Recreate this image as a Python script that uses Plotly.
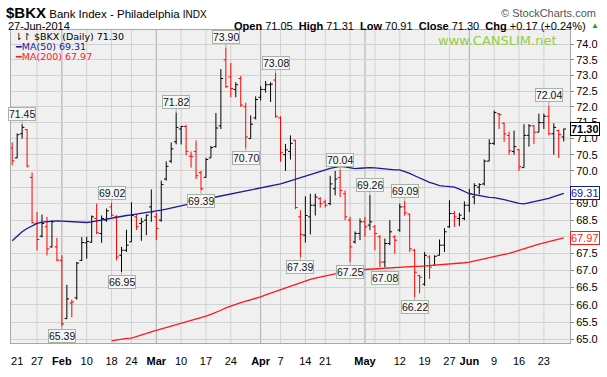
import math
import pandas as pd
import plotly.graph_objects as go

# ---------------- data ----------------
holidays = ["2014-01-20", "2014-02-17", "2014-04-18", "2014-05-26"]
dates = [d.strftime("%Y-%m-%d") for d in pd.bdate_range("2014-01-17", "2014-06-27")
         if d.strftime("%Y-%m-%d") not in holidays]

opens = [70.70, 70.40, 71.15, 71.28, 69.80, 68.40, 68.02, 68.30, 67.70, 67.70,
         67.30, 65.60, 66.05, 66.20, 67.30, 67.82, 67.84, 68.55, 68.10, 68.50,
         68.90, 68.60, 67.45, 67.60, 67.85, 68.60, 68.40, 68.50, 68.90, 68.60,
         68.50, 69.75, 70.30, 70.90, 71.30, 71.38, 70.45, 70.60, 69.95, 69.80,
         70.40, 70.75, 71.40, 73.50, 72.95, 72.55, 72.90, 72.00, 71.00, 71.65,
         72.30, 72.55, 72.70, 72.85, 71.65, 70.50, 70.60, 70.95, 68.60, 68.05,
         68.60, 68.95, 69.15, 69.05, 69.00, 69.45, 69.80, 69.30, 68.50, 67.85,
         68.10, 68.45, 68.35, 68.30, 68.00, 67.25, 67.80, 68.00, 68.20, 68.90,
         68.68, 67.60, 66.85, 66.60, 67.40, 67.15, 67.45, 67.75, 68.30, 68.70,
         68.55, 68.55, 68.95, 69.20, 69.50, 69.60, 70.30, 70.85, 71.78, 71.48,
         71.10, 70.60, 70.65, 70.10, 71.10, 71.40, 71.20, 71.50, 71.70, 71.15,
         71.25, 71.05]
highs = [70.88, 71.16, 71.45, 71.30, 69.95, 68.75, 68.67, 68.60, 68.50, 67.97,
         67.45, 66.58, 66.15, 67.25, 67.99, 68.00, 68.64, 69.00, 68.64, 68.85,
         69.02, 68.65, 67.70, 68.21, 69.04, 68.68, 68.57, 68.67, 69.43, 68.72,
         69.70, 70.29, 70.88, 71.82, 71.40, 71.43, 70.60, 70.94, 70.00, 70.40,
         70.77, 71.80, 73.20, 73.90, 73.40, 72.78, 72.98, 72.13, 71.73, 72.33,
         72.65, 72.82, 72.78, 73.08, 71.70, 70.83, 71.10, 70.96, 68.80, 69.22,
         69.30, 69.30, 69.20, 69.12, 69.85, 70.00, 70.04, 69.40, 68.60, 68.16,
         68.55, 68.60, 69.26, 68.35, 68.05, 67.95, 68.50, 68.05, 69.00, 69.09,
         68.70, 67.64, 66.88, 67.55, 67.45, 67.45, 67.92, 68.26, 69.10, 68.78,
         68.72, 69.07, 69.45, 69.62, 69.62, 70.35, 70.98, 71.88, 71.80, 71.50,
         71.22, 71.25, 70.68, 71.45, 71.45, 71.42, 71.78, 71.78, 72.04, 71.48,
         71.28, 71.31]
lows = [70.17, 70.39, 71.00, 70.10, 68.40, 67.59, 67.98, 67.45, 67.68, 67.27,
        65.39, 65.59, 65.64, 66.15, 67.28, 67.35, 67.82, 68.08, 67.82, 68.45,
        68.60, 67.30, 66.95, 67.55, 67.85, 68.20, 67.88, 68.05, 68.45, 67.90,
        68.45, 69.70, 70.24, 70.82, 70.82, 70.48, 70.10, 69.75, 69.39, 69.80,
        70.40, 70.72, 71.30, 72.60, 72.30, 72.30, 72.00, 70.70, 71.00, 71.60,
        72.20, 72.45, 72.15, 71.65, 70.28, 70.00, 70.35, 68.83, 67.39, 67.83,
        68.07, 68.64, 68.88, 68.88, 68.95, 69.25, 69.20, 68.50, 67.25, 67.80,
        67.90, 68.00, 68.20, 67.60, 67.10, 67.08, 67.75, 67.50, 68.15, 68.63,
        67.55, 66.22, 66.33, 66.55, 66.75, 67.15, 67.45, 67.55, 68.27, 68.30,
        68.32, 68.50, 68.75, 68.98, 69.28, 69.55, 70.30, 70.80, 71.30, 70.90,
        70.50, 70.50, 70.00, 70.10, 70.75, 70.83, 71.20, 71.30, 71.10, 70.50,
        70.40, 70.91]
closes = [70.31, 71.12, 71.35, 70.15, 68.42, 67.92, 68.40, 67.64, 68.45, 67.31,
          65.45, 66.17, 66.08, 67.22, 67.83, 67.86, 68.60, 68.12, 68.55, 68.78,
          68.65, 67.40, 67.60, 67.75, 68.64, 68.30, 68.45, 68.65, 68.75, 68.25,
          69.58, 70.14, 70.68, 71.35, 71.38, 70.60, 70.45, 69.85, 69.45, 70.35,
          70.72, 71.33, 72.90, 72.64, 72.58, 72.70, 72.05, 71.05, 71.45, 72.23,
          72.55, 72.70, 72.72, 71.70, 70.56, 70.65, 70.85, 68.88, 68.07, 68.64,
          68.95, 69.20, 69.00, 68.95, 69.60, 69.75, 69.40, 68.60, 67.70, 68.10,
          68.45, 68.30, 68.45, 68.10, 67.25, 67.80, 68.15, 67.90, 68.90, 68.72,
          67.64, 66.95, 66.80, 67.45, 67.10, 67.42, 67.75, 68.15, 68.70, 68.60,
          68.65, 68.95, 69.30, 69.55, 69.58, 70.30, 70.85, 71.82, 71.75, 71.15,
          70.62, 70.75, 70.13, 71.10, 71.40, 71.20, 71.50, 71.70, 71.15, 71.35,
          71.13, 71.30]

ma50 = [67.88, 68.02, 68.15, 68.25, 68.33, 68.40, 68.44, 68.46, 68.48, 68.48,
        68.47, 68.46, 68.45, 68.43, 68.42, 68.43, 68.45, 68.48, 68.51, 68.54,
        68.56, 68.58, 68.62, 68.64, 68.66, 68.68, 68.70, 68.72, 68.75, 68.77,
        68.80, 68.83, 68.86, 68.89, 68.93, 68.97, 69.00, 69.05, 69.10, 69.14,
        69.17, 69.20, 69.24, 69.28, 69.31, 69.34, 69.37, 69.40, 69.43, 69.46,
        69.49, 69.52, 69.55, 69.57, 69.60, 69.65, 69.70, 69.75, 69.80, 69.85,
        69.90, 69.95, 69.99, 70.03, 70.08, 70.11, 70.14, 70.12, 70.09, 70.07,
        70.08, 70.10, 70.10, 70.09, 70.07, 70.05, 70.04, 70.03, 70.03, 69.98,
        69.92, 69.85, 69.78, 69.71, 69.65, 69.60, 69.55, 69.53, 69.52, 69.50,
        69.44, 69.37, 69.30, 69.27, 69.24, 69.21, 69.19, 69.18, 69.16, 69.12,
        69.08, 69.04, 69.01, 68.99, 69.02, 69.05, 69.09, 69.12, 69.16, 69.21,
        69.26, 69.31]
ma200_start = 20
ma200 = [64.96, 64.99, 65.01, 65.03, 65.04, 65.09, 65.14, 65.18, 65.22, 65.26,
         65.30, 65.34, 65.38, 65.42, 65.45, 65.49, 65.53, 65.58, 65.62, 65.67,
         65.72, 65.77, 65.84, 65.91, 65.97, 66.01, 66.06, 66.10, 66.15, 66.19,
         66.23, 66.29, 66.34, 66.40, 66.45, 66.51, 66.56, 66.61, 66.65, 66.70,
         66.74, 66.78, 66.81, 66.85, 66.88, 66.90, 66.91, 66.93, 66.94, 66.97,
         67.00, 67.03, 67.04, 67.05, 67.07, 67.08, 67.09, 67.10, 67.10, 67.11,
         67.11, 67.12, 67.12, 67.13, 67.14, 67.15, 67.17, 67.18, 67.19, 67.20,
         67.22, 67.23, 67.25, 67.28, 67.31, 67.34, 67.37, 67.40, 67.44, 67.48,
         67.51, 67.55, 67.60, 67.64, 67.68, 67.73, 67.78, 67.82, 67.86, 67.89,
         67.93, 67.97]

label_high_dates = ["2014-01-22", "2014-02-18", "2014-03-07", "2014-03-21", "2014-04-04",
                    "2014-04-24", "2014-05-02", "2014-05-13", "2014-06-24"]
label_low_dates = ["2014-02-03", "2014-02-20", "2014-03-14", "2014-03-27", "2014-04-11",
                   "2014-04-28", "2014-05-07", "2014-05-15"]

xtick_dates = ["2014-01-21", "2014-01-27", "2014-02-03", "2014-02-10", "2014-02-18",
               "2014-02-24", "2014-03-03", "2014-03-10", "2014-03-17", "2014-03-24",
               "2014-04-01", "2014-04-07", "2014-04-14", "2014-04-21", "2014-05-01",
               "2014-05-12", "2014-05-19", "2014-05-27", "2014-06-02", "2014-06-09",
               "2014-06-16", "2014-06-23"]
xtick_text = ["21", "27", "<b>Feb</b>", "10", "18", "24", "<b>Mar</b>", "10", "17", "24",
              "<b>Apr</b>", "7", "14", "21", "<b>May</b>", "12", "19", "27", "<b>Jun</b>",
              "9", "16", "23"]
week_grid_dates = ["2014-01-27", "2014-02-10", "2014-02-18", "2014-02-24", "2014-03-10",
                   "2014-03-17", "2014-03-24", "2014-04-07", "2014-04-14", "2014-04-21",
                   "2014-04-28", "2014-05-05", "2014-05-12", "2014-05-19", "2014-05-27",
                   "2014-06-09", "2014-06-16", "2014-06-23"]
month_grid_dates = ["2014-02-03", "2014-03-03", "2014-04-01", "2014-05-01", "2014-06-02"]
ytick_vals = [65.0, 65.5, 66.0, 66.5, 67.0, 67.5, 68.0, 68.5, 69.0, 69.5,
              70.0, 70.5, 71.0, 71.5, 72.0, 72.5, 73.0, 73.5, 74.0]

# ---------------- figure ----------------
W, H = 607, 377
L, R, T, B = 9.5, 572.0, 29.5, 357.0
def px(x): return (x - L) / (R - L)
def py(y): return (B - y) / (B - T)

n = len(dates)
prev = [opens[0]] + closes[:-1]
up = [i for i in range(n) if closes[i] >= prev[i]]
dn = [i for i in range(n) if closes[i] < prev[i]]

fig = go.Figure()
for idx, col in ((up, "#000000"), (dn, "#ff0000")):
    fig.add_trace(go.Ohlc(
        x=[dates[i] for i in idx], open=[opens[i] for i in idx], high=[highs[i] for i in idx],
        low=[lows[i] for i in idx], close=[closes[i] for i in idx],
        increasing=dict(line=dict(color=col, width=1)),
        decreasing=dict(line=dict(color=col, width=1)),
        tickwidth=0.45, hoverinfo="skip"))

fig.add_trace(go.Scatter(x=dates, y=ma50, mode="lines",
                         line=dict(color="#1a1a96", width=1.3), hoverinfo="skip"))
fig.add_trace(go.Scatter(x=dates[ma200_start:], y=ma200, mode="lines",
                         line=dict(color="#ff1a1a", width=1.3), hoverinfo="skip"))

shapes = []
for d in week_grid_dates:
    shapes.append(dict(type="line", xref="x", yref="paper", x0=d, x1=d, y0=0, y1=1,
                       line=dict(color="#d2d2d2", width=1), layer="below"))
for d in month_grid_dates:
    shapes.append(dict(type="line", xref="x", yref="paper", x0=d, x1=d, y0=0, y1=1,
                       line=dict(color="#ababab", width=1), layer="below"))

ann = []
box = dict(bgcolor="#f7f7f7", bordercolor="#a6b4a6", borderwidth=1, borderpad=0, height=12,
           font=dict(size=10.5, color="#111", family="Liberation Sans"),
           showarrow=True, arrowhead=0, arrowwidth=1, arrowcolor="#a6b4a6", ax=0, standoff=0)
for d in label_high_dates:
    i = dates.index(d)
    ann.append(dict(x=d, y=math.log10(highs[i]), text=f"{highs[i]:.2f}", ay=-10, **box))
for d in label_low_dates:
    i = dates.index(d)
    ann.append(dict(x=d, y=math.log10(lows[i]), text=f"{lows[i]:.2f}", ay=10, **box))

# right-hand value tags
tags = ((closes[-1], "#000000", True), (ma50[-1], "#1a1a96", False),
        (ma200[-1], "#ff1a1a", False))
for val, col, bold in tags:
    t = f"{val:.2f}"
    ann.append(dict(xref="paper", x=1, xanchor="left", xshift=0, y=math.log10(val),
                    yanchor="middle", text=f"<b>{t}</b>" if bold else t, showarrow=False,
                    bgcolor="#ffffff", bordercolor=col, borderwidth=1, borderpad=0,
                    height=12,
                    font=dict(size=11, color=col if not bold else "#000",
                              family="Liberation Sans")))

# axis labels that the tags hide completely in the original are left blank
hidden = [v for v in ytick_vals if any(abs(math.log10(v) - math.log10(t[0])) < 0.0012
                                       for t in tags)]
ytick_text = ["" if v in hidden else f"{v:.1f}" for v in ytick_vals]

def txt(x, y, text, size, color="#000", anchor="left", family="Liberation Sans"):
    ann.append(dict(xref="paper", yref="paper", x=px(x), y=py(y), text=text,
                    showarrow=False, xanchor=anchor, yanchor="middle",
                    font=dict(size=size, color=color, family=family)))

chg = closes[-1] - closes[-2]
pct = chg / closes[-2] * 100
txt(2, 11, "<span style='font-size:15px;font-weight:bold'>$BKX</span> "
           "Bank Index - Philadelphia <span style='font-size:10px'>INDX</span>", 11.5,
    family="Liberation Sans Narrow, Liberation Sans")
txt(600, 12, "© StockCharts.com", 11, "#555", "right")
txt(4, 25, pd.Timestamp(dates[-1]).strftime("%d-%b-%Y"), 11)
txt(590, 25, f"<b>Open</b> {opens[-1]:.2f}  <b>High</b> {highs[-1]:.2f}  <b>Low</b> "
             f"{lows[-1]:.2f}  <b>Close</b> {closes[-1]:.2f}  <b>Chg</b> {chg:+.2f} "
             f"({pct:+.2f}%)", 11, "#000", "right")
txt(597, 25, "▲", 8, "#1aa31a", "center")
txt(12, 36, f"⇂↾ $BKX (Daily) {closes[-1]:.2f}", 9.5, "#000", family="DejaVu Sans")
txt(12, 46.5, f"<b>━</b>MA(50) {ma50[-1]:.2f}", 9.5, "#1a1a96", family="DejaVu Sans")
txt(12, 57, f"<b>━</b>MA(200) {ma200[-1]:.2f}", 9.5, "#ff1a1a", family="DejaVu Sans")
txt(499, 40, "www.CANSLIM.net", 13, "#95cc45", "center", family="DejaVu Sans")

fig.update_layout(
    width=W, height=H, margin=dict(l=L, r=W - R, t=T, b=H - B),
    paper_bgcolor="#ffffff", plot_bgcolor="#f0f0f0", showlegend=False,
    font=dict(family="Liberation Sans", size=11, color="#000"),
    shapes=shapes, annotations=ann,
    xaxis=dict(type="category", categoryorder="array", categoryarray=dates,
               range=[-0.24, n + 0.26], tickvals=xtick_dates, ticktext=xtick_text,
               showgrid=False, ticks="", showline=True, linecolor="#a8a8a8", mirror=True,
               ticklabelstandoff=8,
               rangeslider=dict(visible=False), tickfont=dict(size=11), fixedrange=True),
    yaxis=dict(type="log", side="right", range=[math.log10(64.9), math.log10(74.47)],
               tickvals=ytick_vals, ticktext=ytick_text,
               showgrid=True, gridcolor="#d2d2d2", gridwidth=1, ticks="outside", ticklen=3,
               tickcolor="#888", showline=True, linecolor="#a8a8a8", mirror=True,
               zeroline=False, tickfont=dict(size=11), fixedrange=True),
)
fig.write_html("out.html", config={"displayModeBar": False, "staticPlot": True},
               post_script="document.body.style.margin='0px';document.body.style.padding='0px';")
